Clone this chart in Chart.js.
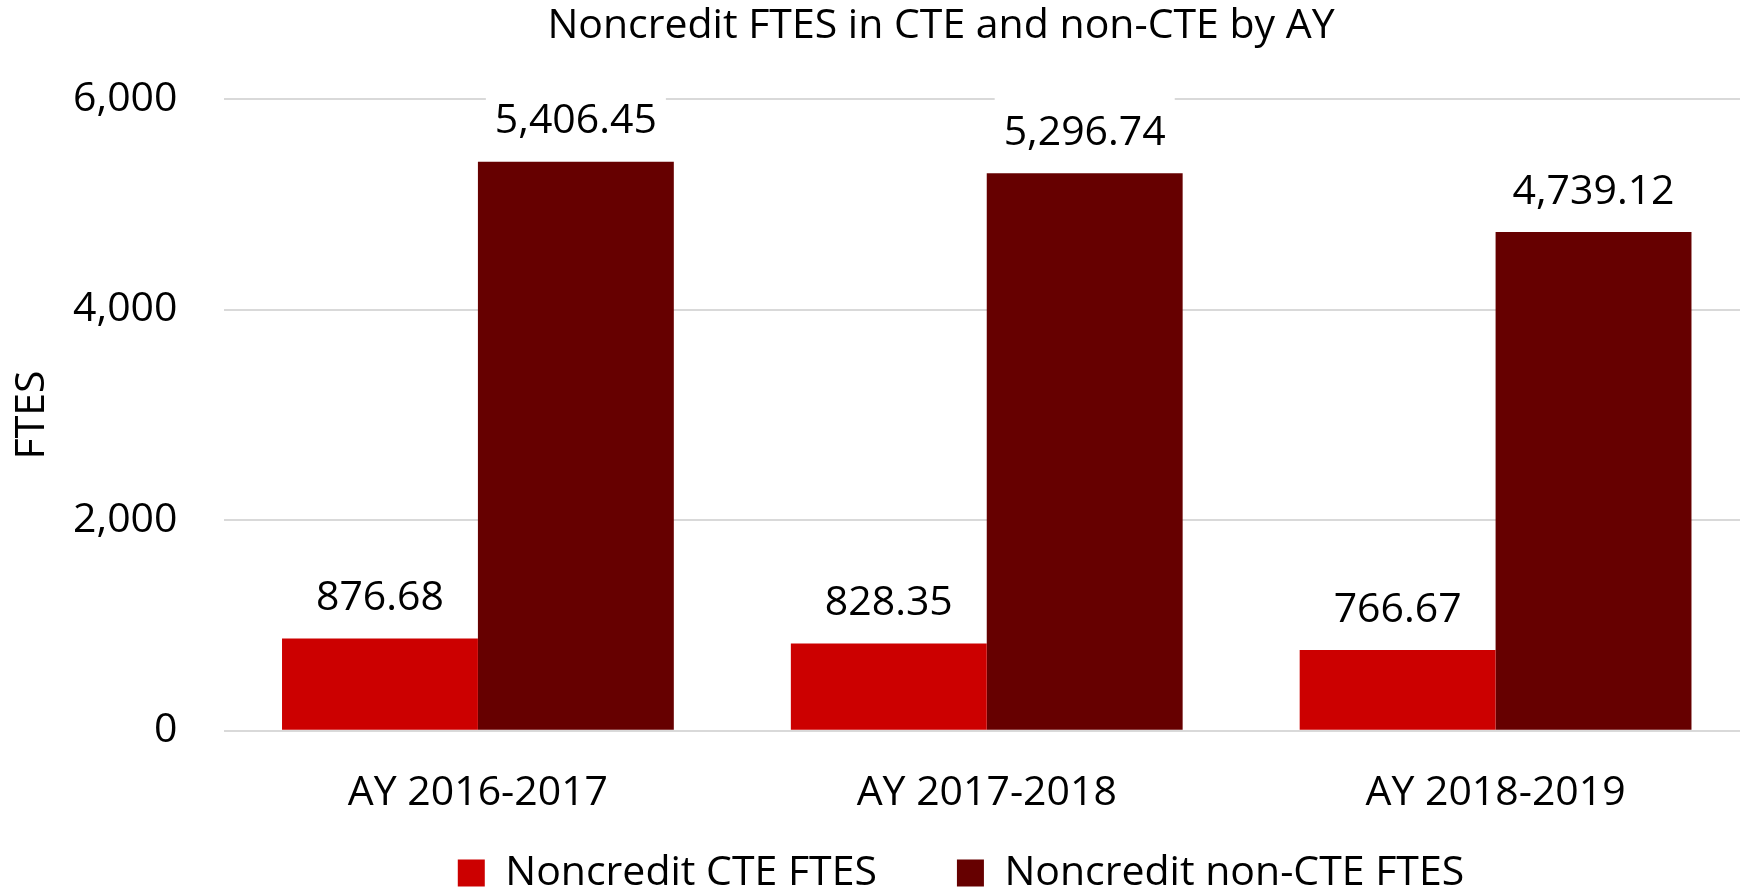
<!DOCTYPE html>
<html>
<head>
<meta charset="utf-8">
<title>Noncredit FTES in CTE and non-CTE by AY</title>
<script src="https://cdn.jsdelivr.net/npm/chart.js@4.4.1/dist/chart.umd.min.js"></script>
<style>
  html, body { margin: 0; padding: 0; background: #fff; overflow: hidden; }
  /* the plot in the original runs a few px past the right edge */
  #wrap { width: 1740px; height: 892px; overflow: hidden; }
</style>
</head>
<body>
<div id="wrap"><canvas id="chart" width="1750" height="892"></canvas></div>
<script>
const years = ['AY 2016-2017', 'AY 2017-2018', 'AY 2018-2019'];
const cteFtes = [876.68, 828.35, 766.67];
const nonCteFtes = [5406.45, 5296.74, 4739.12];
const seriesNames = ['Noncredit CTE FTES', 'Noncredit non-CTE FTES'];
const yTicks = [0, 2000, 4000, 6000];

const FONT = '"Open Sans", "Noto Sans", sans-serif';
const SIZE = 41;

function money(v) {
  return v.toLocaleString('en-US', { minimumFractionDigits: 2, maximumFractionDigits: 2 });
}

// value labels above each bar, on a white box like the Excel original
const valueLabels = {
  id: 'valueLabels',
  afterDatasetsDraw(chart) {
    const ctx = chart.ctx;
    ctx.save();
    ctx.font = `${SIZE}px ${FONT}`;
    ctx.textAlign = 'center';
    ctx.textBaseline = 'middle';
    chart.data.datasets.forEach((ds, di) => {
      chart.getDatasetMeta(di).data.forEach((bar, i) => {
        const txt = money(ds.data[i]);
        const w = ctx.measureText(txt).width + 18;
        const cy = bar.y - 40;
        ctx.fillStyle = '#fff';
        ctx.fillRect(bar.x - w / 2, cy - 38, w, 76);
        ctx.fillStyle = '#000';
        ctx.fillText(txt, bar.x, cy);
      });
    });
    ctx.restore();
  }
};

// title and legend sit off the canvas centre in the original
function moveBox(box, cx, top) {
  if (!box) return;
  const dx = cx - (box.left + box.right) / 2;
  box.left += dx;
  box.right += dx;
  if (top != null) {
    const dy = top - box.top;
    box.top += dy;
    box.bottom += dy;
  }
}
const nudge = {
  id: 'nudge',
  afterLayout(chart) {
    moveBox(chart.titleBlock, 941);
    moveBox(chart.legend, 961, 772.5);
  }
};

function draw() {
  new Chart(document.getElementById('chart'), {
    type: 'bar',
    data: {
      labels: years,
      datasets: [
        { label: seriesNames[0], data: cteFtes, backgroundColor: '#CC0000' },
        { label: seriesNames[1], data: nonCteFtes, backgroundColor: '#660000' },
      ],
    },
    options: {
      responsive: false,
      animation: false,
      categoryPercentage: 0.77,
      barPercentage: 1,
      layout: { padding: { top: 0, left: 0, right: 0, bottom: -94.9 } },
      plugins: {
        tooltip: { enabled: false },
        title: {
          display: true,
          text: 'Noncredit FTES in CTE and non-CTE by AY',
          color: '#000',
          font: { family: FONT, size: SIZE, weight: 'normal' },
          padding: { top: 2, bottom: 48 },
        },
        legend: {
          position: 'bottom',
          labels: {
            color: '#000',
            font: { family: FONT, size: SIZE },
            boxWidth: 27,
            boxHeight: 27,
            padding: 80,
          },
        },
      },
      scales: {
        x: {
          grid: { display: false, drawTicks: false },
          border: { display: false },
          ticks: { color: '#000', font: { family: FONT, size: SIZE }, padding: 38 },
        },
        y: {
          min: 0,
          max: 6000,
          afterBuildTicks(scale) { scale.ticks = yTicks.map(v => ({ value: v })); },
          grid: { color: '#D9D9D9', lineWidth: 2, drawTicks: false },
          border: { display: false },
          ticks: {
            color: '#000',
            font: { family: FONT, size: SIZE },
            padding: 46,
            callback: v => v.toLocaleString('en-US'),
          },
          title: {
            display: true,
            text: 'FTES',
            color: '#000',
            font: { family: FONT, size: SIZE },
            padding: { top: 8, bottom: 0 },
          },
          afterFit(scale) { scale.width = 223.5; },
        },
      },
    },
    plugins: [valueLabels, nudge],
  });
}

document.fonts.load(`${SIZE}px "Open Sans"`).then(draw, draw);
</script>
</body>
</html>
